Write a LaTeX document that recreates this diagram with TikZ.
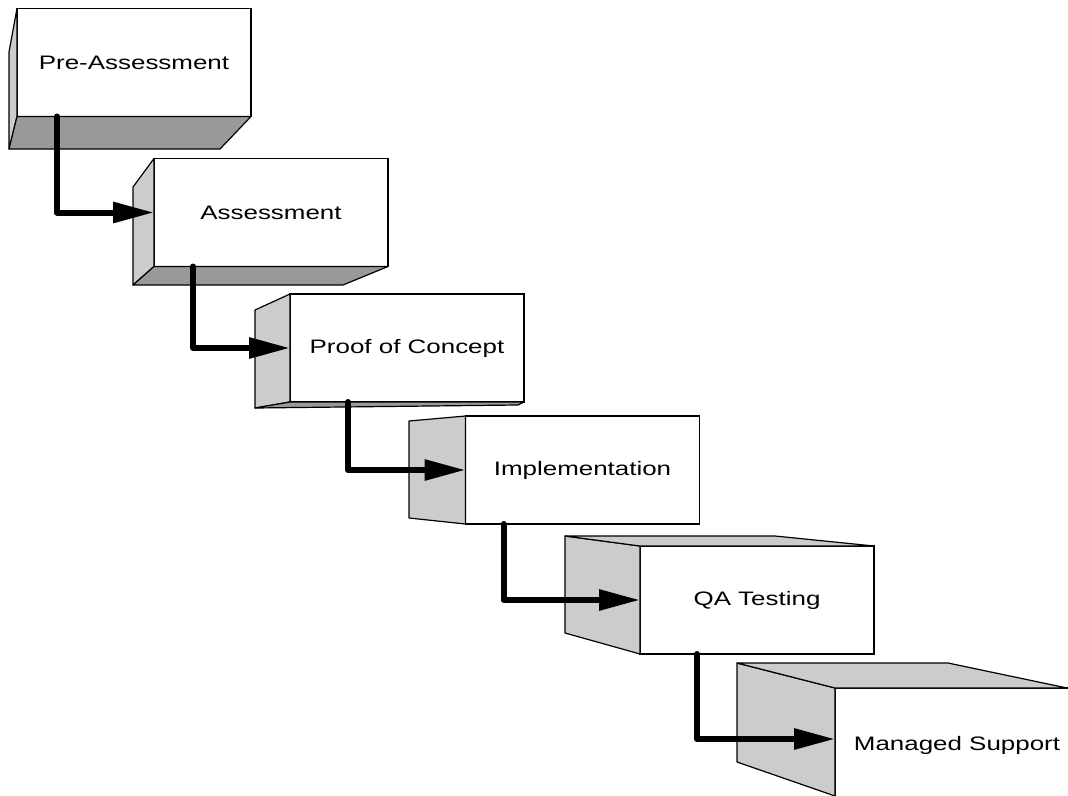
\documentclass[tikz,border=0pt]{standalone}
\usepackage{fontspec}
\usepackage{tikz}
\usetikzlibrary{arrows.meta, positioning}
\newfontfamily\boxfont[FakeStretch=1.33]{Liberation Sans}

\begin{document}
\begin{tikzpicture}[x=1pt, y=-1pt]
	
	\tikzset{
		front/.style={draw, fill=white, line width=1.2pt,
			minimum width=234pt, minimum height=108pt,
			inner sep=0pt, outer sep=0pt,
			font=\boxfont\fontsize{19.5}{22}\selectfont},
		side/.style={draw, fill=black!20, line width=1.2pt, line join=round},
		floor/.style={draw, fill=black!40, line width=1.2pt, line join=round},
		flow/.style={line width=6pt, line cap=round, line join=round,
			-{Triangle[length=41pt, width=20pt]}}
	}
	
	\useasboundingbox (0,0) rectangle (1068,795);
	\clip (0,0) rectangle (1068,795);
	
	% front faces
	\node[front] (pre) at (134,62.5) {Pre-Assessment};
	\node[front] (assess) at (271,212.5) {Assessment};
	\node[front] (poc) at (407,348) {Proof of Concept};
	\node[front] (impl) at (582.5,470) {Implementation};
	\node[front] (qa) at (757,600) {QA Testing};
	\node[front, minimum width=244pt, minimum height=114pt, text depth=3pt] (support) at (957,745) {Managed Support};
	
	% side, bottom and top faces
	\filldraw[side] (pre.north west) -- (9,52) -- (9,149) -- (pre.south west) -- cycle;
	\filldraw[floor] (pre.south west) -- (pre.south east) -- (220,149) -- (9,149) -- cycle;
	
	\filldraw[side] (assess.north west) -- (133,187) -- (133,285) -- (assess.south west) -- cycle;
	\filldraw[floor] (assess.south west) -- (assess.south east) -- (343,285) -- (133,285) -- cycle;
	
	\filldraw[side] (poc.north west) -- (255,310) -- (255,408) -- (poc.south west) -- cycle;
	\filldraw[floor] (poc.south west) -- (poc.south east) -- (518,405) -- (255,408) -- cycle;
	
	\filldraw[side] (impl.north west) -- (409,421) -- (409,518) -- (impl.south west) -- cycle;
	
	\filldraw[side] (qa.north west) -- (565,536) -- (565,633) -- (qa.south west) -- cycle;
	\filldraw[side] (qa.north west) -- (565,536) -- (775,536) -- (qa.north east) -- cycle;
	
	\filldraw[side] (support.north west) -- (737,663) -- (737,762) -- (835,796) -- cycle;
	\filldraw[side] (support.north west) -- (737,663) -- (948,663) -- (1067,688) -- (support.north east) -- cycle;
	
	% flow arrows
	\draw[flow] ([xshift=40pt]pre.south west) |- (assess.west);
	\draw[flow] ([xshift=39pt]assess.south west) |- (poc.west);
	\draw[flow] ([xshift=58pt]poc.south west) |- (impl.west);
	\draw[flow] ([xshift=38pt]impl.south west) |- (qa.west);
	\draw[flow] ([xshift=57pt]qa.south west) |- ([yshift=6pt]support.west);
	
\end{tikzpicture}
\end{document}
